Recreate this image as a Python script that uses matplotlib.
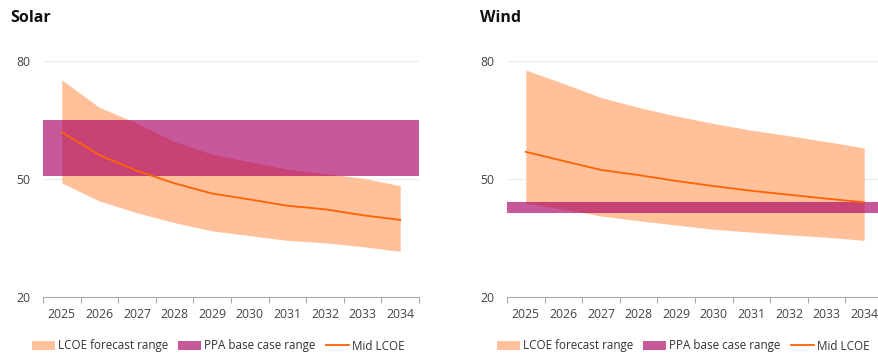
import matplotlib
matplotlib.use("Agg")
import matplotlib.pyplot as plt
from matplotlib.patches import Patch
from matplotlib.lines import Line2D

years = ["2025", "2026", "2027", "2028", "2029", "2030", "2031", "2032", "2033", "2034"]

solar_upper = [75.2, 68.2, 64.2, 59.5, 56.3, 54.4, 52.5, 51.4, 50.2, 48.3]
solar_lower = [49.0, 44.4, 41.4, 38.9, 36.8, 35.6, 34.4, 33.8, 32.8, 31.6]
solar_mid = [61.9, 56.1, 52.1, 48.9, 46.3, 44.8, 43.2, 42.3, 40.8, 39.6]
solar_ppa = (50.7, 65.0)

wind_upper = [77.7, 74.3, 70.7, 68.2, 66.0, 64.1, 62.4, 61.0, 59.5, 57.9]
wind_lower = [43.8, 42.3, 40.6, 39.4, 38.3, 37.2, 36.5, 35.8, 35.2, 34.4]
wind_mid = [56.9, 54.6, 52.3, 51.0, 49.5, 48.2, 47.0, 46.0, 45.0, 44.1]
wind_ppa = (41.3, 44.2)

yticks = [20, 50, 80]

FILL = "#FFC09A"
LINE = "#FF6200"
PPA = (170/255, 0, 100/255)
PPA_ALPHA = 0.65
FONT = "Open Sans"

plt.rcParams["font.family"] = [FONT, "DejaVu Sans"]

fig = plt.figure(figsize=(8.79, 3.53), dpi=100)

W, H = 879, 353
def add_ax(left_px):
    return fig.add_axes([left_px / W, 1 - 297 / H, 376 / W, 236 / H])

panels = [
    ("Solar", 10, 43, 218, solar_upper, solar_lower, solar_mid, solar_ppa),
    ("Wind", 480, 507, 683, wind_upper, wind_lower, wind_mid, wind_ppa),
]

for title, tx, axl, legx, up, lo, mid, ppa in panels:
    ax = add_ax(axl)
    x = list(range(len(years)))
    ax.fill_between(x, lo, up, color=FILL, lw=0, zorder=2)
    ax.fill_between([-0.5, len(years) - 0.5], [ppa[0]] * 2, [ppa[1]] * 2,
                    color=PPA, alpha=PPA_ALPHA, lw=0, zorder=3)
    ax.plot(x, mid, color=LINE, lw=1.3, zorder=4)
    ax.set_xlim(-0.5, len(years) - 0.5)
    ax.set_ylim(20, 80)
    ax.set_yticks(yticks)
    ax.set_yticklabels([str(v) for v in yticks])
    for v in yticks[1:]:
        ax.axhline(v, color="#EEEEEE", lw=1, zorder=1)
    ax.set_xticks(x)
    ax.set_xticklabels(years)
    ax.set_xticks([i - 0.5 for i in range(len(years) + 1)], minor=True)
    ax.tick_params(axis="x", which="major", length=0, pad=8, labelsize=8.8, labelcolor="#444444")
    ax.tick_params(axis="x", which="minor", length=4, color="#AAAAAA", width=0.8)
    ax.tick_params(axis="y", length=0, pad=9, labelsize=8.8, labelcolor="#444444")
    for s in ["top", "right", "left"]:
        ax.spines[s].set_visible(False)
    ax.spines["bottom"].set_color("#AAAAAA")
    ax.spines["bottom"].set_linewidth(0.8)
    ax.set_facecolor("none")

    fig.text(tx / W, 1 - 18 / H, title, fontsize=11.5, fontweight="bold",
             color="#111111", va="center", ha="left")

    handles = [
        Patch(facecolor=FILL, edgecolor="none"),
        Patch(facecolor=PPA, alpha=PPA_ALPHA, edgecolor="none"),
        Line2D([0], [0], color=LINE, lw=1.3),
    ]
    labels = ["LCOE forecast range", "PPA base case range", "Mid LCOE"]
    fig.legend(handles, labels, loc="center", bbox_to_anchor=(legx / W, 1 - 346 / H),
               ncol=3, frameon=False, fontsize=8.4, handlelength=2.0, handleheight=0.7,
               handletextpad=0.25, columnspacing=0.85, labelcolor="#333333",
               borderaxespad=0, borderpad=0)

fig.savefig("out.png", dpi=100)
